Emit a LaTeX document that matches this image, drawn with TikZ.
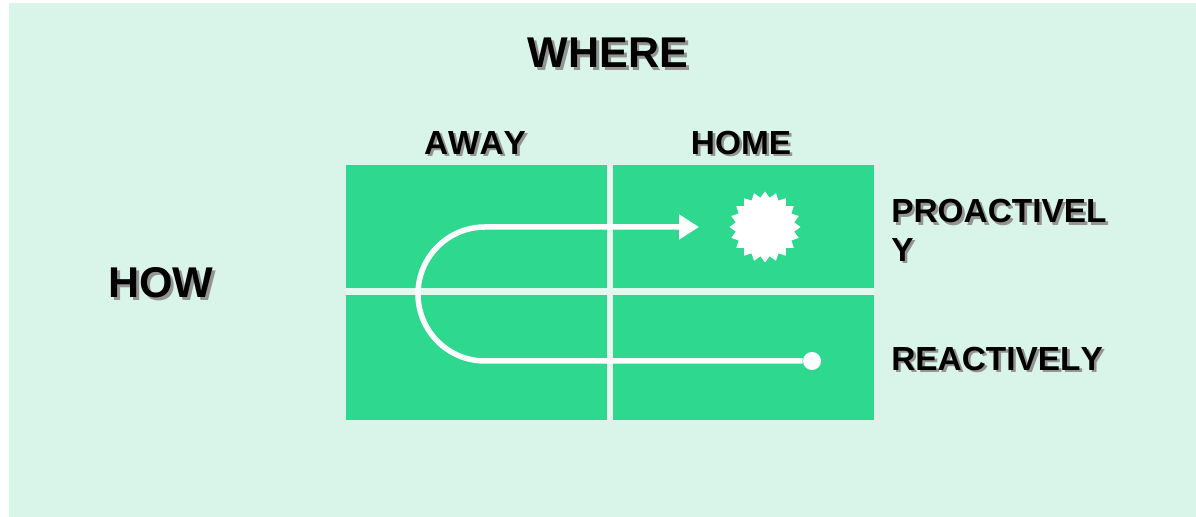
\documentclass[tikz,border=0pt]{standalone}
\usepackage{fontspec}
\setmainfont[Kerning=Off]{Liberation Sans}
\usetikzlibrary{arrows.meta,shapes.geometric}
\definecolor{pagegreen}{HTML}{D9F5E9}
\definecolor{panelgreen}{HTML}{2ED98F}
\definecolor{gridline}{HTML}{E4F8EF}
\newcommand{\shadowed}[1]{\rlap{\kern1.5pt\raisebox{-1.5pt}{\textcolor{black!42}{#1}}}#1}
\tikzset{
  biglabel/.style={font=\fontsize{24.5}{29}\selectfont\bfseries,inner sep=0pt},
  smalllabel/.style={font=\fontsize{19}{22}\selectfont\bfseries,inner sep=0pt,align=left},
  grid line/.style={draw=gridline,line width=1.3mm},
  route/.style={draw=white!92!pagegreen,line width=1.1mm}
}
\begin{document}
\begin{tikzpicture}[x=1cm,y=1cm]
\useasboundingbox (0,0) rectangle (23.92,10.34);
\fill[pagegreen] (0.18,0) rectangle (23.92,10.28);
\fill[panelgreen] (6.92,1.94) rectangle (17.48,7.04);
\draw[grid line] (12.2,1.94) -- (12.2,7.04);
\draw[grid line] (6.92,4.51) -- (17.48,4.51);
% labels
\node[biglabel] (where) at (12.16,9.26) {\shadowed{WHERE}};
\node[biglabel] (how) at (3.22,4.66) {\shadowed{HOW}};
\node[smalllabel] (away) at (9.5,7.46) {\shadowed{AWAY}};
\node[smalllabel] (home) at (14.82,7.46) {\shadowed{HOME}};
\node[smalllabel,anchor=west] (pro) at (17.82,5.71) {\shadowed{PROACTIVEL}\\\shadowed{Y}};
\node[smalllabel,anchor=west] (rea) at (17.82,3.14) {\shadowed{REACTIVELY}};
% route through the grid
\node[circle,fill=white,inner sep=0pt,minimum size=3.6mm] (dot) at (16.24,3.12) {};
\node[star,star points=20,star point ratio=1.2,fill=white,inner sep=0pt,minimum size=1.42cm] (burst) at (15.3,5.8) {};
\coordinate (goal) at (13.98,5.8);
\coordinate (bend) at (9.7,3.12);
\draw[route,-{Triangle[length=4mm,width=4.8mm]}] (dot) -- (bend) arc[start angle=270,end angle=90,radius=1.34] -- (goal);
\end{tikzpicture}
\end{document}
